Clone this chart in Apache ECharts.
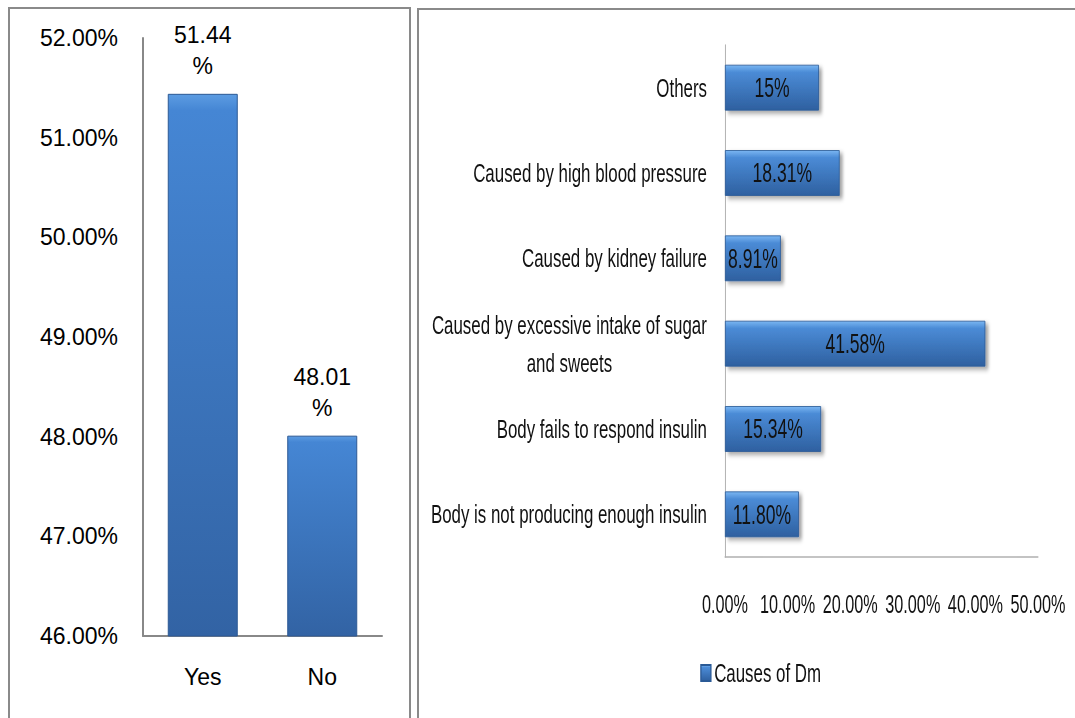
<!DOCTYPE html>
<html>
<head>
<meta charset="utf-8">
<title>Diabetes survey charts</title>
<script src="https://cdn.jsdelivr.net/npm/echarts@6/dist/echarts.min.js"></script>
<style>
  html, body { margin: 0; padding: 0; background: #ffffff; overflow: hidden; }
  #stage { position: relative; width: 1075px; height: 718px; }
  #answers { position: absolute; left: 0; top: 0; width: 1075px; height: 718px; }
  /* the causes panel is drawn wide and squeezed horizontally, giving its condensed lettering */
  #causes {
    position: absolute; left: 418px; top: 0;
    width: 1011px; height: 718px;
    transform: scaleX(0.65); transform-origin: 0 0;
  }
</style>
</head>
<body>
<div id="stage">
  <div id="answers"></div>
  <div id="causes"></div>
</div>
<script>
// Left panel: yes / no answers
const answerCategories = ['Yes', 'No'];
const answerValues = [51.44, 48.01];
const answerTicks = { min: 46, max: 52, step: 1 };

// Right panel: reported causes of diabetes (listed bottom to top)
const causeCategories = [
  'Body is not producing enough insulin',
  'Body fails to respond insulin',
  'Caused by excessive intake of sugar\nand sweets',
  'Caused by kidney failure',
  'Caused by high blood pressure',
  'Others'
];
const causeValues = [11.80, 15.34, 41.58, 8.91, 18.31, 15];
const causeLabels = ['11.80%', '15.34%', '41.58%', '8.91%', '18.31%', '15%'];
const causeTicks = { min: 0, max: 50, step: 10 };
const causeSeriesName = 'Causes of Dm';

const sansFont = "'Liberation Sans', Arial, sans-serif";
const squeeze = 0.65;            // matches the scaleX on #causes
const causesLeft = 418;          // page x of the #causes box
const px = x => (x - causesLeft) / squeeze;   // page x -> unscaled x inside #causes
const pw = w => w / squeeze;                  // page width -> unscaled width

const columnFill = new echarts.graphic.LinearGradient(0, 0, 0, 1, [
  { offset: 0, color: '#5c9ce2' },
  { offset: 0.03, color: '#4586d4' },
  { offset: 1, color: '#3263a4' }
]);
const barFill = new echarts.graphic.LinearGradient(0, 0, 0, 1, [
  { offset: 0, color: '#7ab6f2' },
  { offset: 0.16, color: '#4b8bd6' },
  { offset: 1, color: '#2e60a0' }
]);

// ---- Yes / No column chart, plus both panel frames ----
const answers = echarts.init(document.getElementById('answers'), null, { renderer: 'svg' });
answers.setOption({
  backgroundColor: '#ffffff',
  animation: false,
  graphic: [
    { type: 'rect', shape: { x: 9, y: 8, width: 401, height: 730 },
      style: { fill: 'none', stroke: '#8a8a8a', lineWidth: 2 } },
    { type: 'rect', shape: { x: 418, y: 9, width: 700, height: 730 },
      style: { fill: 'none', stroke: '#8a8a8a', lineWidth: 2 } }
  ],
  grid: { left: 143, top: 38, width: 239, height: 598 },
  xAxis: {
    type: 'category',
    data: answerCategories,
    axisLine: { lineStyle: { color: '#888888', width: 2 } },
    axisTick: { show: false },
    axisLabel: { margin: 29, fontFamily: sansFont, fontSize: 23, color: '#000' }
  },
  yAxis: {
    type: 'value',
    min: answerTicks.min,
    max: answerTicks.max,
    interval: answerTicks.step,
    splitLine: { show: false },
    axisLine: { show: true, lineStyle: { color: '#888888', width: 2 } },
    axisTick: { show: false },
    axisLabel: {
      margin: 25,
      fontFamily: sansFont,
      fontSize: 23,
      color: '#000',
      formatter: v => v.toFixed(2) + '%'
    }
  },
  series: [{
    name: 'Answers',
    type: 'bar',
    data: answerValues,
    barWidth: 70,
    itemStyle: { color: columnFill, borderColor: '#2c5994', borderWidth: 1 },
    label: {
      show: true,
      position: 'top',
      distance: 12,
      fontFamily: sansFont,
      fontSize: 23,
      lineHeight: 31,
      color: '#000',
      formatter: p => p.value.toFixed(2) + '\n%'
    }
  }]
});

// ---- Causes of Dm horizontal bar chart ----
const causes = echarts.init(document.getElementById('causes'), null, { renderer: 'svg' });
causes.setOption({
  backgroundColor: 'transparent',
  animation: false,
  legend: {
    data: [causeSeriesName],
    left: px(697),
    top: 655,
    icon: 'rect',
    itemWidth: pw(10),
    itemHeight: 16,
    itemGap: 5,
    textStyle: { fontFamily: sansFont, fontSize: 26, color: '#111' }
  },
  grid: { left: px(725), top: 45, width: pw(313), height: 512 },
  xAxis: {
    type: 'value',
    min: causeTicks.min,
    max: causeTicks.max,
    interval: causeTicks.step,
    splitLine: { show: false },
    axisLine: { show: true, lineStyle: { color: '#b0b0b0', width: 1.5 } },
    axisTick: { show: false },
    axisLabel: {
      margin: 35,
      showMinLabel: true,
      showMaxLabel: true,
      hideOverlap: false,
      fontFamily: sansFont,
      fontSize: 25,
      color: '#111',
      formatter: v => v.toFixed(2) + '%'
    }
  },
  yAxis: {
    type: 'category',
    data: causeCategories,
    axisLine: { show: true, lineStyle: { color: '#b0b0b0', width: 1.5 } },
    axisTick: { show: false },
    axisLabel: {
      margin: pw(18),
      fontFamily: sansFont,
      fontSize: 26,
      color: '#111',
      lineHeight: 38,
      formatter: v => v.split('\n').map(s => '{c|' + s + '}').join('\n'),
      rich: {
        c: { align: 'center', fontFamily: sansFont, fontSize: 26, color: '#111', lineHeight: 38 }
      }
    }
  },
  series: [{
    name: causeSeriesName,
    type: 'bar',
    data: causeValues,
    barWidth: 46,
    itemStyle: {
      color: barFill,
      borderColor: '#2a5a96',
      borderWidth: 1,
      shadowColor: 'rgba(0,0,0,0.35)',
      shadowBlur: 5,
      shadowOffsetX: 4.5,
      shadowOffsetY: 3
    },
    label: {
      show: true,
      position: 'inside',
      fontFamily: sansFont,
      fontSize: 27,
      color: '#111',
      formatter: p => causeLabels[p.dataIndex]
    }
  }]
});
</script>
</body>
</html>
